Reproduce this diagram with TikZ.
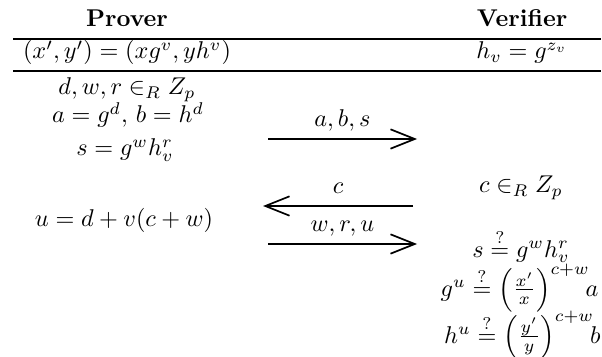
\documentclass[tikz,border=0pt]{standalone}
\usepackage{amsmath,amssymb}
\usetikzlibrary{arrows.meta}

\begin{document}
\begin{tikzpicture}[
    x=0.0145cm, y=-0.0145cm,
    txt/.style={anchor=base, inner sep=0pt},
    hdr/.style={txt, font=\bfseries},
    rule/.style={line width=0.8pt},
    arr/.style={-{Straight Barb[length=10pt, width=8pt, line width=0.7pt]}, line width=0.7pt},
    msg/.style={midway, anchor=base, yshift=5.2pt, inner sep=0pt},
]
\useasboundingbox (0,0) rectangle (602,357);

% header
\node[hdr] (prover) at (127,27) {Prover};
\node[hdr] (verifier) at (522,27) {Verifier};
\draw[rule] (13,39) -- (601,39);
\node[txt] (pub) at (127,59) {$(x',y') = (xg^v,yh^v)$};
\node[txt] (key) at (522,59) {$h_v = g^{z_v}$};
\draw[rule] (13,71) -- (601,71);

% prover side
\node[txt] (pick) at (127,95) {$d,w,r \in_R Z_p$};
\node[txt] (commit) at (128,123) {$a = g^d,\, b = h^d$};
\node[txt] (sval) at (125,156) {$s = g^w h_v^r$};
\node[txt] (resp) at (124,227) {$u = d + v(c+w)$};

% verifier side
\node[txt] (chal) at (521,193) {$c \in_R Z_p$};
\node[txt] (chk1) at (521,257) {$s \stackrel{?}{=} g^w h_v^r$};
\node[txt, anchor=base east] (chk2) at (599,296) {$g^u \stackrel{?}{=} \left(\frac{x'}{x}\right)^{c+w}\mkern-6mu a$};
\node[txt, anchor=base east] (chk3) at (601,343) {$h^u \stackrel{?}{=} \left(\frac{y'}{y}\right)^{c+w}\mkern-6mu b$};

% messages
\coordinate (m1a) at (268,139);
\coordinate (m1b) at (417,139);
\coordinate (m2a) at (413,206);
\coordinate (m2b) at (263,206);
\coordinate (m3a) at (268,244);
\coordinate (m3b) at (417,244);
\draw[arr] (m1a) -- (m1b) node[msg] {$a,b,s$};
\draw[arr] (m2a) -- (m2b) node[msg] {$c$};
\draw[arr] (m3a) -- (m3b) node[msg] {$w,r,u$};
\end{tikzpicture}
\end{document}
